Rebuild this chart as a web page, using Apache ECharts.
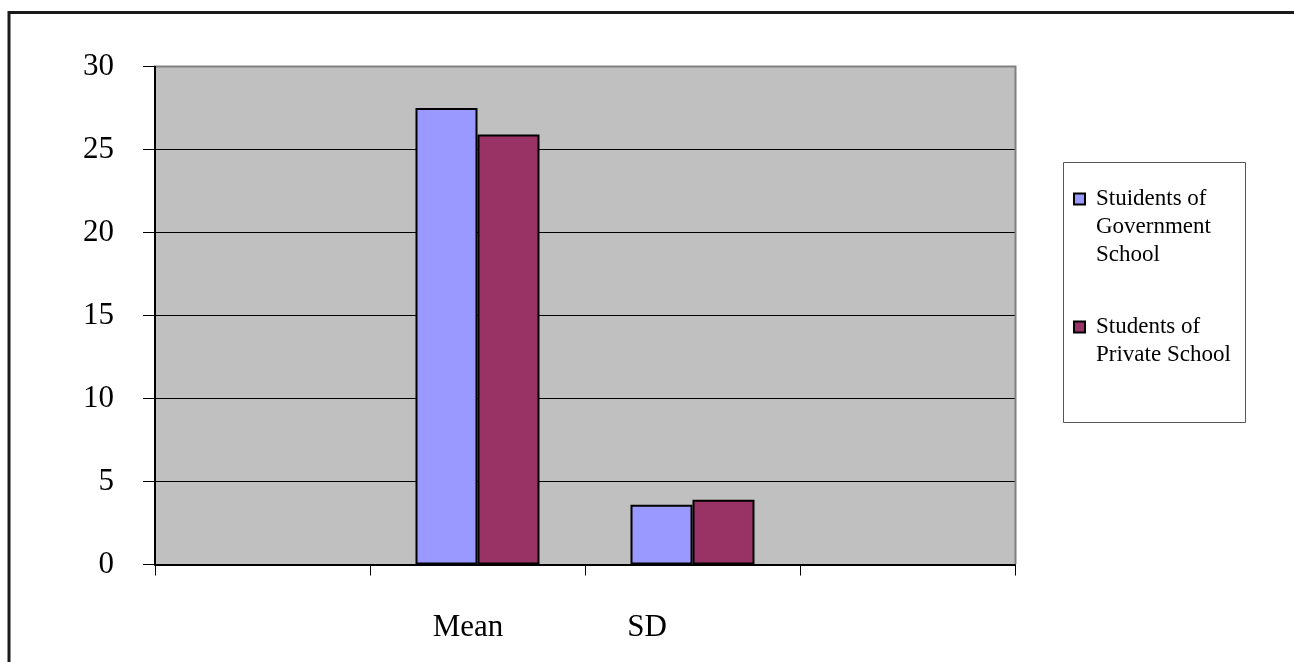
<!DOCTYPE html>
<html>
<head>
<meta charset="utf-8">
<script src="https://cdn.jsdelivr.net/npm/echarts@6/dist/echarts.min.js"></script>
<style>
html,body{margin:0;padding:0;background:#fff;}
#chart{width:1294px;height:662px;}
</style>
</head>
<body>
<div id="chart"></div>
<script>
// ---- data ----
const categories = ['', 'Mean', 'SD', ''];
const seriesNames = ['Stuidents of\nGovernment\nSchool', 'Students of\nPrivate School'];
const govValues = [null, 27.5, 3.6, null];
const privValues = [null, 25.9, 3.9, null];
const yMin = 0, yMax = 30, yStep = 5;

const FONT = '"Liberation Serif", "Times New Roman", serif';
const LH = 28;
const labelShift = { 'Mean': 19, 'SD': 91 };

const chart = echarts.init(document.getElementById('chart'), null, { renderer: 'canvas' });

const option = {
  backgroundColor: '#ffffff',
  animation: false,
  graphic: [
    { type: 'rect', shape: { x: 9, y: 12.5, width: 1400, height: 800 },
      style: { fill: 'none', stroke: '#1a1a1a', lineWidth: 3 }, z: -10 },
    { type: 'rect', shape: { x: 1063.5, y: 162.5, width: 182, height: 260 },
      style: { fill: '#ffffff', stroke: '#555555', lineWidth: 1 }, z: -5 },
    { type: 'polyline', shape: { points: [[156, 66.5], [1015.5, 66.5], [1015.5, 564]] },
      style: { fill: 'none', stroke: '#808080', lineWidth: 2 }, z: 100 }
  ],
  grid: {
    left: 155, right: 279, top: 66.5, bottom: 97.5,
    show: true, backgroundColor: '#C0C0C0', borderColor: '#808080', borderWidth: 0,
    containLabel: false
  },
  legend: {
    orient: 'vertical',
    left: 1073, top: 129,
    padding: 0,
    itemGap: 16,
    itemWidth: 11, itemHeight: 11,
    icon: 'rect',
    formatter: function (name) {
      const lines = name.split('\n').length;
      return '\n'.repeat(lines - 1) + name;
    },
    textStyle: { fontFamily: FONT, fontSize: 23, color: '#000', lineHeight: LH, padding: [0, 0, 0, 6] },
    data: seriesNames
  },
  xAxis: {
    type: 'category',
    data: categories.map(function (c) {
      return { value: c, textStyle: { padding: [0, labelShift[c] || 0, 0, 0] } };
    }),
    axisLine: { show: true, lineStyle: { color: '#000', width: 2 } },
    axisTick: { show: true, length: 11, lineStyle: { color: '#000', width: 1 } },
    axisLabel: { fontFamily: FONT, fontSize: 31, color: '#000', margin: 48, interval: 0 },
    splitLine: { show: false }
  },
  yAxis: {
    type: 'value', min: yMin, max: yMax, interval: yStep,
    axisLine: { show: true, lineStyle: { color: '#000', width: 2 } },
    axisTick: { show: true, length: 12, lineStyle: { color: '#000', width: 1 } },
    axisLabel: { fontFamily: FONT, fontSize: 31, color: '#000', margin: 41 },
    splitLine: { show: true, lineStyle: { color: '#000', width: 1 } }
  },
  series: [
    {
      name: seriesNames[0], type: 'bar', data: govValues,
      barWidth: 62, barGap: '0%',
      itemStyle: { color: '#9999FF', borderColor: '#000', borderWidth: 2 }
    },
    {
      name: seriesNames[1], type: 'bar', data: privValues,
      barWidth: 62, barGap: '0%',
      itemStyle: { color: '#993366', borderColor: '#000', borderWidth: 2 }
    }
  ]
};
chart.setOption(option);
</script>
</body>
</html>
